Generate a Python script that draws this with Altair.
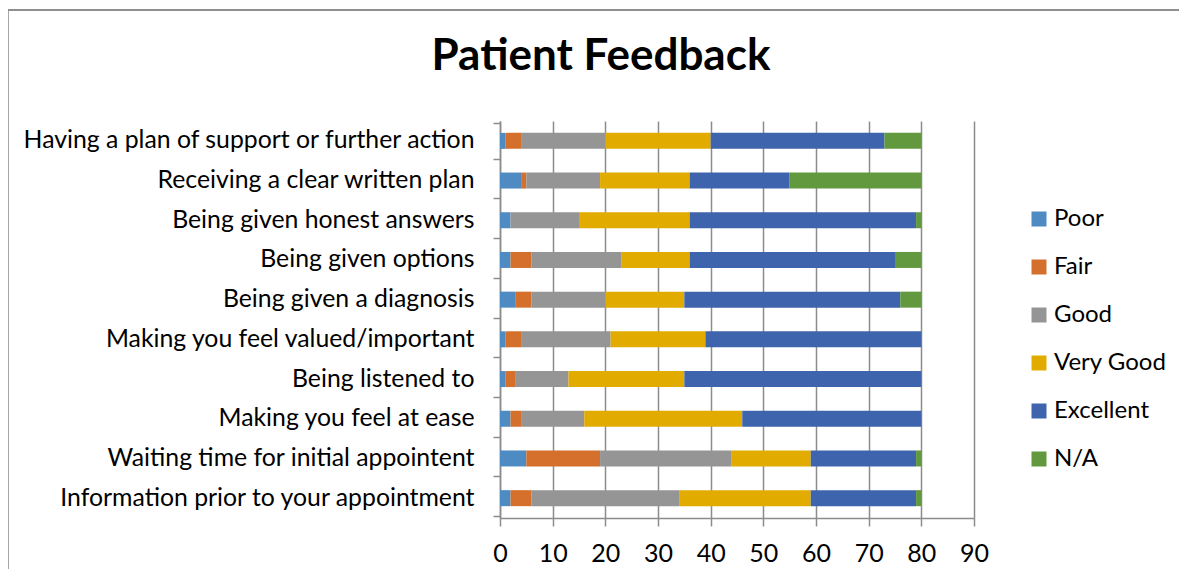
import altair as alt
import pandas as pd

title_text = "Patient Feedback"
questions = [
    "Having a plan of support or further action",
    "Receiving a clear written plan",
    "Being given honest answers",
    "Being given options",
    "Being given a diagnosis",
    "Making you feel valued/important",
    "Being listened to",
    "Making you feel at ease",
    "Waiting time for initial appointent",
    "Information prior to your appointment",
]
ratings = ["Poor", "Fair", "Good", "Very Good", "Excellent", "N/A"]
colors = ["#4F8BC3", "#D4702C", "#959595", "#E2AB00", "#3E64AD", "#62993E"]

poor      = [1, 4, 2, 2, 3, 1, 1, 2, 5, 2]
fair      = [3, 1, 0, 4, 3, 3, 2, 2, 14, 4]
good      = [16, 14, 13, 17, 14, 17, 10, 12, 25, 28]
very_good = [20, 17, 21, 13, 15, 18, 22, 30, 15, 25]
excellent = [33, 19, 43, 39, 41, 41, 45, 34, 20, 20]
na        = [7, 25, 1, 5, 4, 0, 0, 0, 1, 1]

series = [poor, fair, good, very_good, excellent, na]
rows = []
for ri, (r, vals) in enumerate(zip(ratings, series)):
    for q, v in zip(questions, vals):
        rows.append({"Question": q, "Rating": r, "Count": v, "order": ri})
df = pd.DataFrame(rows)

FONT = "Lato"
GRID = "#8C8C8C"

bars = alt.Chart(df).mark_bar(size=16).encode(
    y=alt.Y("Question:N", sort=questions, title=None,
            axis=alt.Axis(tickBand="extent", labelFontSize=24.8, labelFont=FONT,
                          labelColor="#000000", labelPadding=19, tickSize=7,
                          tickColor=GRID, domainColor=GRID, domainWidth=1.5,
                          tickWidth=1.5, labelLimit=600)),
    x=alt.X("Count:Q", stack="zero", title=None,
            scale=alt.Scale(domain=[0, 90], nice=False),
            axis=alt.Axis(values=list(range(0, 91, 10)), labelFontSize=25,
                          labelFont=FONT, labelColor="#000000", labelPadding=15,
                          labelFlush=False, labelOverlap=False,
                          tickSize=8, tickColor=GRID, tickWidth=1.5,
                          domainColor=GRID, domainWidth=1.5,
                          grid=True, gridColor=GRID, gridWidth=1.5)),
    color=alt.Color("Rating:N", sort=ratings,
                    scale=alt.Scale(domain=ratings, range=colors),
                    legend=alt.Legend(title=None, orient="none", legendX=527, legendY=86,
                                      symbolType="square", symbolSize=225,
                                      symbolStrokeWidth=0, labelFontSize=24,
                                      labelFont=FONT, labelColor="#000000",
                                      labelOffset=3, rowPadding=24)),
    order=alt.Order("order:Q"),
)

title = alt.Chart(pd.DataFrame({"t": [title_text]})).mark_text(
    font=FONT, fontSize=44, fontWeight="bold", color="#000000",
    align="center", baseline="alphabetic").encode(
    text="t:N", x=alt.value(101), y=alt.value(-51))

frame = pd.DataFrame({"k": [0]})
left_border = alt.Chart(frame).mark_rule(color="#A6A6A6", strokeWidth=2).encode(
    x=alt.value(-492), y=alt.value(-111), y2=alt.value(460))
top_border = alt.Chart(frame).mark_rule(color="#8F8F8F", strokeWidth=2).encode(
    x=alt.value(-493), x2=alt.value(700), y=alt.value(-111))

chart = alt.layer(bars, title, left_border, top_border).properties(
    width=474, height=397,
    background="#FFFFFF",
    autosize=alt.AutoSizeParams(type="none"),
    padding={"left": 492, "top": 113, "right": 205, "bottom": 51},
).configure_view(stroke=None)

chart.save("out.html", embed_options={"renderer": "svg", "actions": False})
